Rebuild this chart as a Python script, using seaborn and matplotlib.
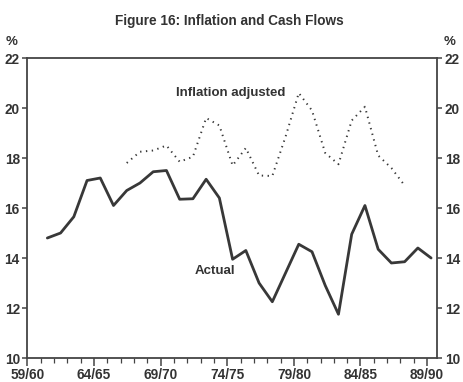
import numpy as np
import pandas as pd
import matplotlib
matplotlib.use("Agg")
import matplotlib.pyplot as plt
from matplotlib.ticker import MultipleLocator
import seaborn as sns

sns.set_theme(style="white")
plt.rcParams['font.family'] = ['Liberation Sans', 'DejaVu Sans']

# Fiscal years 60/61 .. 89/90
years = [f"{(60 + i) % 100:02d}/{(61 + i) % 100:02d}" for i in range(30)]
actual = [14.8, 15.0, 15.65, 17.1, 17.2, 16.1, 16.7, 17.0, 17.45, 17.5,
          16.35, 16.37, 17.15, 16.4, 13.95, 14.3, 13.0, 12.25, 13.4, 14.55,
          14.25, 12.9, 11.75, 14.95, 16.1, 14.35, 13.8, 13.85, 14.4, 14.0]
inflation_adj = [None, None, None, None, None, None, 17.8, 18.25, 18.3, 18.5,
                 17.85, 18.05, 19.6, 19.3, 17.7, 18.4, 17.3, 17.28, 18.85, 20.6,
                 19.9, 18.2, 17.75, 19.5, 20.05, 18.1, 17.6, 16.9, None, None]
tick_labels = ["59/60", "64/65", "69/70", "74/75", "79/80", "84/85", "89/90"]

# positions of the yearly points relative to the 59/60 tick
pos = np.linspace(1.49, 30.3, len(years))
df = pd.DataFrame({"pos": pos, "year": years, "Actual": actual,
                   "Inflation adjusted": pd.array(inflation_adj, dtype="Float64")})

W, H = 464, 382
fig = plt.figure(figsize=(W / 100, H / 100), dpi=100)
ax = fig.add_axes([27.5 / W, 1 - 358 / H, (437 - 27.5) / W, (358 - 58) / H])

line_col = "#383838"
sns.lineplot(data=df, x="pos", y="Actual", ax=ax, color=line_col, lw=2.0)
d2 = df.dropna(subset=["Inflation adjusted"]).astype({"Inflation adjusted": float})
sns.lineplot(data=d2, x="pos", y="Inflation adjusted", ax=ax, color=line_col,
             lw=1.4, linestyle=(0, (0.7, 2.3)))

ax.set_xlim(0, (437 - 27.5) / 13.32)
ax.set_ylim(10, 22)
ax.set_xticks(np.arange(0, 31, 5))
ax.set_xticklabels(tick_labels)
ax.xaxis.set_minor_locator(MultipleLocator(1))
ax.set_yticks(np.arange(10, 23, 2))
ax.set_xlabel("")
ax.set_ylabel("")

spine_col = "#444444"
for s in ax.spines.values():
    s.set_visible(True)
    s.set_color(spine_col)
    s.set_linewidth(1.3)

ax.tick_params(axis="x", which="major", direction="out", length=6, width=1.1,
               color=spine_col, bottom=True, pad=1, labelsize=9.8, labelcolor="#333333")
ax.tick_params(axis="x", which="minor", direction="out", length=3.5, width=0.9,
               color=spine_col, bottom=True)
ax.tick_params(axis="y", which="major", direction="out", length=3.5, width=1.1,
               color=spine_col, left=True, right=True, labelleft=True, labelright=True,
               pad=2, labelsize=9.8, labelcolor="#333333")
for t in ax.xaxis.get_major_ticks():
    t.label1.set_fontweight("bold")
for t in ax.yaxis.get_major_ticks():
    t.label1.set_fontweight("bold")
    t.label2.set_fontweight("bold")

txt_col = "#333333"
ax.text(15.28, 20.6, "Inflation adjusted", ha="center", va="center",
        fontsize=9.5, fontweight="bold", color=txt_col)
ax.text(14.08, 13.5, "Actual", ha="center", va="center",
        fontsize=9.5, fontweight="bold", color=txt_col)

fig.text(229 / W, 1 - 21 / H, "Figure 16: Inflation and Cash Flows", ha="center",
         va="center", fontsize=9.8, fontweight="bold", color=txt_col)
fig.text(12 / W, 1 - 42 / H, "%", ha="center", va="center", fontsize=9.5,
         fontweight="bold", color=txt_col)
fig.text(450 / W, 1 - 42 / H, "%", ha="center", va="center", fontsize=9.5,
         fontweight="bold", color=txt_col)

fig.savefig("out.png", dpi=100)
